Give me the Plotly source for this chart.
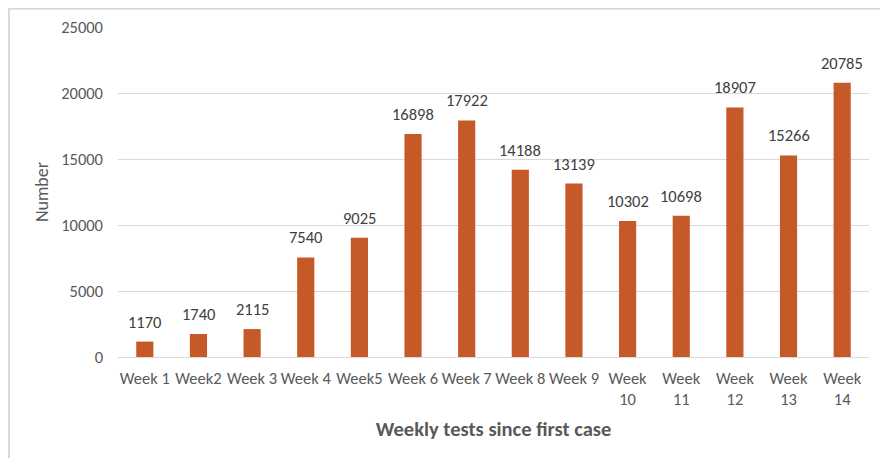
import plotly.graph_objects as go

categories = ["Week 1", "Week2", "Week 3", "Week 4", "Week5", "Week 6", "Week 7",
              "Week 8", "Week 9", "Week<br>10", "Week<br>11", "Week<br>12",
              "Week<br>13", "Week<br>14"]
values = [1170, 1740, 2115, 7540, 9025, 16898, 17922, 14188, 13139, 10302,
          10698, 18907, 15266, 20785]
y_ticks = [0, 5000, 10000, 15000, 20000, 25000]

# page has an 8px body margin; compensate so the plot lands where the reference has it
OFF = 8
W, H = 888 - OFF, 458 - OFF
L, T = 118 - OFF, 27 - OFF
pw, ph = 751, 330
R, B = W - L - pw, H - T - ph

FONT = "Carlito, Calibri, Lato, sans-serif"
GRAY = "#595959"

fig = go.Figure(go.Bar(
    x=categories, y=values,
    marker=dict(color="#C55A28", line=dict(width=0)),
    width=0.32,
    cliponaxis=False,
))

for c, v in zip(categories, values):
    fig.add_annotation(x=c, y=v, text=str(v), showarrow=False,
                       yanchor="bottom", yshift=8,
                       font=dict(family=FONT, size=16.5, color="#404040"))

fig.update_layout(
    width=W, height=H,
    margin=dict(l=L, r=R, t=T, b=B, autoexpand=False),
    paper_bgcolor="white", plot_bgcolor="white",
    showlegend=False,
    font=dict(family=FONT, color=GRAY),
    xaxis=dict(
        tickfont=dict(family=FONT, size=16.5, color=GRAY),
        showgrid=False, showline=True, linecolor="#D9D9D9", linewidth=1,
        tickangle=0, ticklabelstandoff=6, automargin=False,
        title=dict(text="<b>Weekly tests since first case</b>",
                   font=dict(family=FONT, size=20.5, color=GRAY), standoff=13),
    ),
    yaxis=dict(
        range=[0, 25000], tickvals=y_ticks, ticktext=[str(t) for t in y_ticks],
        tickfont=dict(family=FONT, size=16.5, color=GRAY),
        showgrid=True, gridcolor="#D9D9D9", gridwidth=1,
        zeroline=False, ticklabelstandoff=14, automargin=False,
        title=dict(text="Number", font=dict(family=FONT, size=18, color=GRAY),
                   standoff=7),
    ),
)

# chart frame (left and top edges visible)
x_left = (1 - L) / pw
fig.add_shape(type="line", xref="paper", yref="paper",
              x0=x_left, x1=x_left, y0=1 + T / ph, y1=-B / ph,
              line=dict(color="#D9D9D9", width=2))
fig.add_shape(type="line", xref="paper", yref="paper",
              x0=x_left, x1=(W - L) / pw, y0=1 + (T - 0.5) / ph - 0.001,
              y1=1 + (T - 0.5) / ph - 0.001,
              line=dict(color="#D9D9D9", width=2))

fig.write_html("out.html")
